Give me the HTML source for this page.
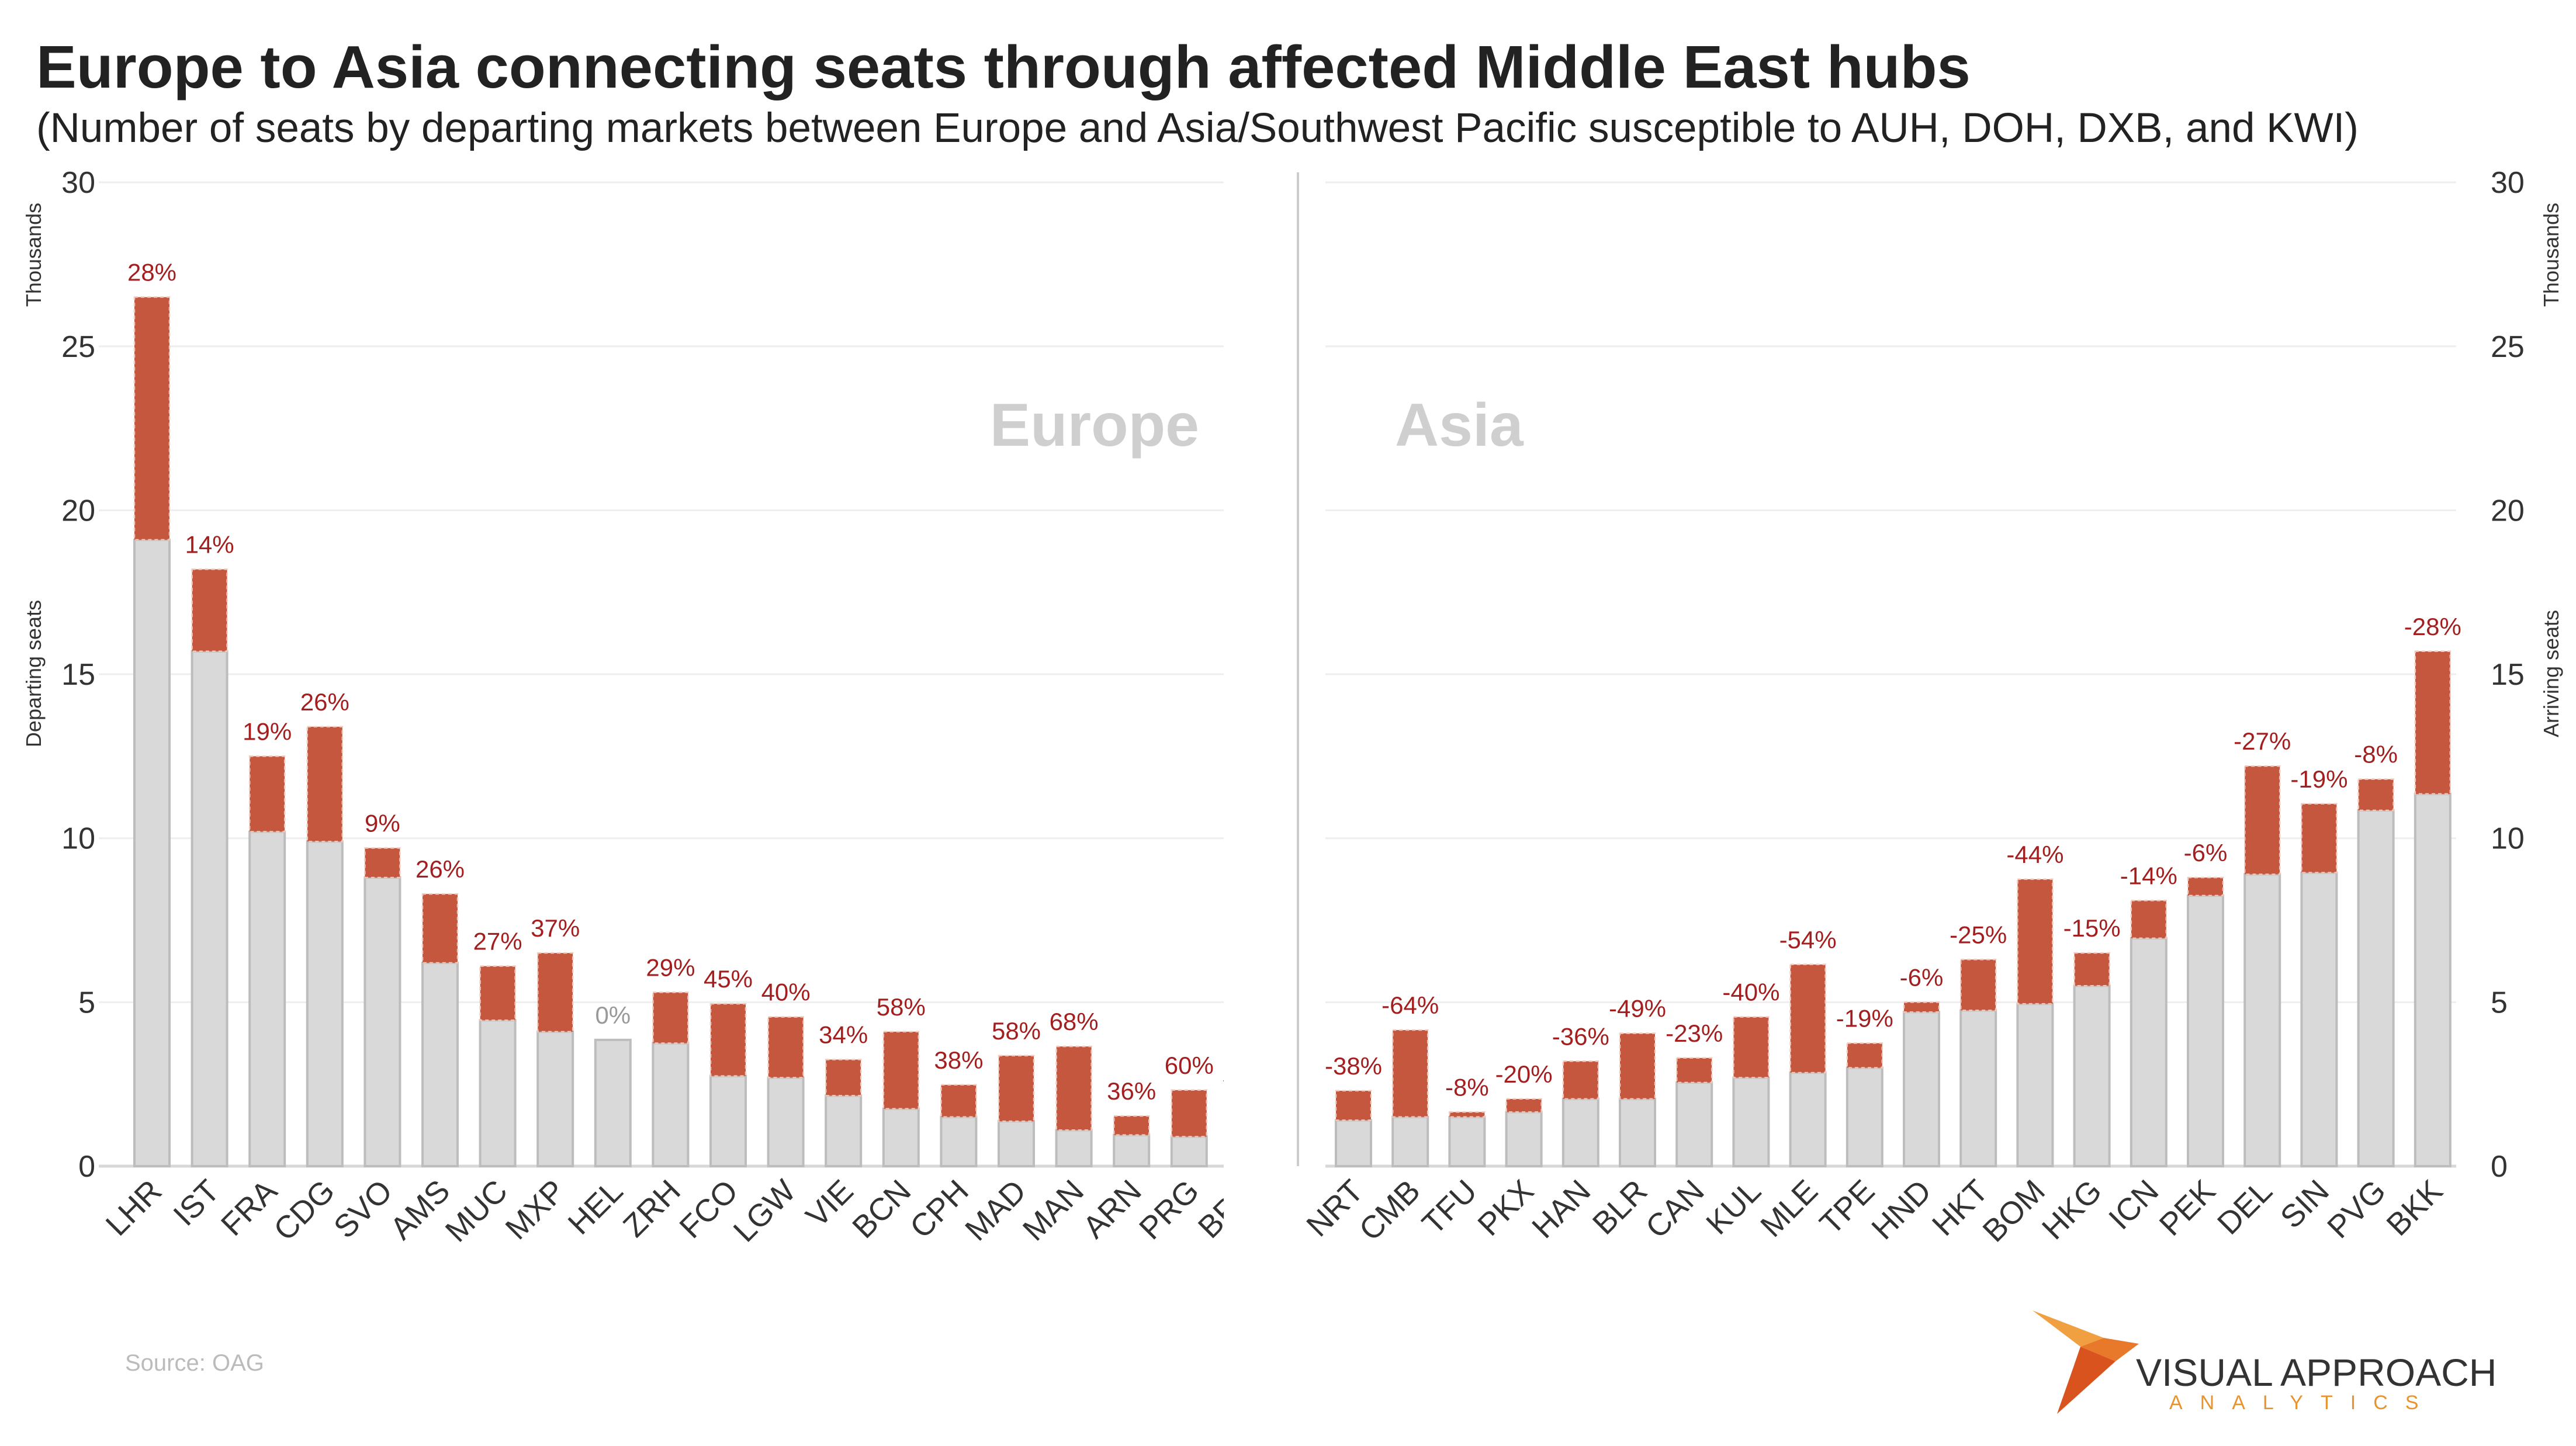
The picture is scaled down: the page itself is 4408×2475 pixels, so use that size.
<!DOCTYPE html>
<html><head><meta charset="utf-8"><style>
html,body{margin:0;padding:0;background:#fff}
svg{display:block;font-family:"Liberation Sans",sans-serif}
</style></head><body>
<svg id="c" width="4408" height="2475" viewBox="0 0 4408 2475">
<text x="62" y="150" font-size="103" font-weight="bold" fill="#222">Europe to Asia connecting seats through affected Middle East hubs</text>
<text x="62" y="243" font-size="71" fill="#222">(Number of seats by departing markets between Europe and Asia/Southwest Pacific susceptible to AUH, DOH, DXB, and KWI)</text>
<text x="2052" y="763" font-size="104" font-weight="bold" fill="#cfcfcf" text-anchor="end">Europe</text>
<text x="2387" y="763" font-size="104" font-weight="bold" fill="#cfcfcf">Asia</text>
<text transform="translate(70,436) rotate(-90)" font-size="36" fill="#333" text-anchor="middle">Thousands</text>
<text transform="translate(70,1153) rotate(-90)" font-size="36" fill="#333" text-anchor="middle">Departing seats</text>
<text transform="translate(4378,436) rotate(-90)" font-size="36" fill="#333" text-anchor="middle">Thousands</text>
<text transform="translate(4378,1153) rotate(-90)" font-size="36" fill="#333" text-anchor="middle">Arriving seats</text>
<line x1="2221" y1="295" x2="2221" y2="1996" stroke="#ccc" stroke-width="4"/>
<text x="214" y="2346" font-size="40" fill="#bbb">Source:  OAG</text>
<g>
<polygon points="3478,2243 3560,2305 3600,2290" fill="#f0a040"/>
<polygon points="3560,2305 3600,2290 3660,2300 3620,2330" fill="#e8782a"/>
<polygon points="3560,2305 3620,2330 3520,2420 3548,2340" fill="#d9531e"/>
<text x="3655" y="2372" font-size="66" fill="#333">VISUAL APPROACH</text>
<text x="3712" y="2412" font-size="34" fill="#e8932e" letter-spacing="30">ANALYTICS</text>
</g>
<defs>
<clipPath id="clipL"><rect x="160" y="200" width="1934" height="2400"/></clipPath>
</defs>
<g id="L" clip-path="url(#clipL)"></g>
<g id="R"></g>
<g id="ticks"></g>
</svg>
<script>
const leftCats=["LHR","IST","FRA","CDG","SVO","AMS","MUC","MXP","HEL","ZRH","FCO","LGW","VIE","BCN","CPH","MAD","MAN","ARN","PRG","BRU"];
const leftBase=[19.1,15.7,10.2,9.9,8.8,6.2,4.45,4.1,3.85,3.75,2.75,2.7,2.15,1.75,1.5,1.37,1.1,0.95,0.9,0.85];
const leftTotal=[26.5,18.2,12.5,13.4,9.7,8.3,6.1,6.5,3.85,5.3,4.95,4.55,3.25,4.1,2.48,3.37,3.65,1.53,2.32,2.0];
const leftPct=["28%","14%","19%","26%","9%","26%","27%","37%","0%","29%","45%","40%","34%","58%","38%","58%","68%","36%","60%","55%"];
const rightCats=["NRT","CMB","TFU","PKX","HAN","BLR","CAN","KUL","MLE","TPE","HND","HKT","BOM","HKG","ICN","PEK","DEL","SIN","PVG","BKK"];
const rightBase=[1.4,1.5,1.5,1.65,2.05,2.05,2.55,2.7,2.85,3.0,4.7,4.75,4.95,5.5,6.95,8.25,8.9,8.95,10.85,11.35];
const rightTotal=[2.3,4.15,1.65,2.05,3.2,4.05,3.3,4.55,6.15,3.75,5.0,6.3,8.75,6.5,8.1,8.8,12.2,11.05,11.8,15.7];
const rightPct=["-38%","-64%","-8%","-20%","-36%","-49%","-23%","-40%","-54%","-19%","-6%","-25%","-44%","-15%","-14%","-6%","-27%","-19%","-8%","-28%"];
const yTicks=[0,5,10,15,20,25,30];

const NS="http://www.w3.org/2000/svg";
const y=v=>1996-v*56.13;
function mk(tag,attrs,parent,txt){const e=document.createElementNS(NS,tag);for(const k in attrs)e.setAttribute(k,attrs[k]);if(txt!==undefined)e.textContent=txt;parent.appendChild(e);return e;}
const tg=document.getElementById('ticks');
function panel(g,cats,base,total,pct,x0,pitch,gx1,gx2,side){
  yTicks.forEach(t=>{
    const l=mk('line',{x1:gx1,x2:gx2,y1:y(t),y2:y(t),stroke:t===0?'#d8d8d8':'#eeeeee','stroke-width':t===0?5:3},g);
    
    
    const tx=side==='left'?mk('text',{x:163,y:y(t)+18,'font-size':52,fill:'#333','text-anchor':'end'},tg,String(t)):mk('text',{x:4262,y:y(t)+18,'font-size':52,fill:'#333'},tg,String(t));
    
    
  });
  const x=i=>x0+i*pitch;
  const w=60;
  cats.forEach((c,i)=>{
    const cx=x(i);
    const b=mk('rect',{x:cx-w/2,y:y(base[i]),width:w,height:y(0)-y(base[i]),fill:'#d9d9d9',stroke:'#bdbdbd','stroke-width':4},g);
    
    
    if(total[i]>base[i]){
      const r=mk('rect',{x:cx-w/2,y:y(total[i]),width:w,height:y(base[i])-y(total[i]),fill:'#c5573f',stroke:'#f0c8bc','stroke-width':2.5,'stroke-dasharray':'6 5'},g);
      
      
    }
    const lb=mk('text',{x:cx,y:y(total[i])-28,'font-size':42,fill:pct[i]==='0%'?'#999':'#a31f1f','text-anchor':'middle'},g,pct[i]);
    
    
    const cl=mk('text',{transform:'translate('+(cx+20)+',2042) rotate(-45)','font-size':54,fill:'#333','text-anchor':'end'},g,c);
    
    
  });
}
const L=document.getElementById('L'),R=document.getElementById('R');
panel(L,leftCats,leftBase,leftTotal,leftPct,260,98.6,169,2094,'left');
panel(R,rightCats,rightBase,rightTotal,rightPct,2316,97.2,2268,4203,'right');
</script>
</body></html>
